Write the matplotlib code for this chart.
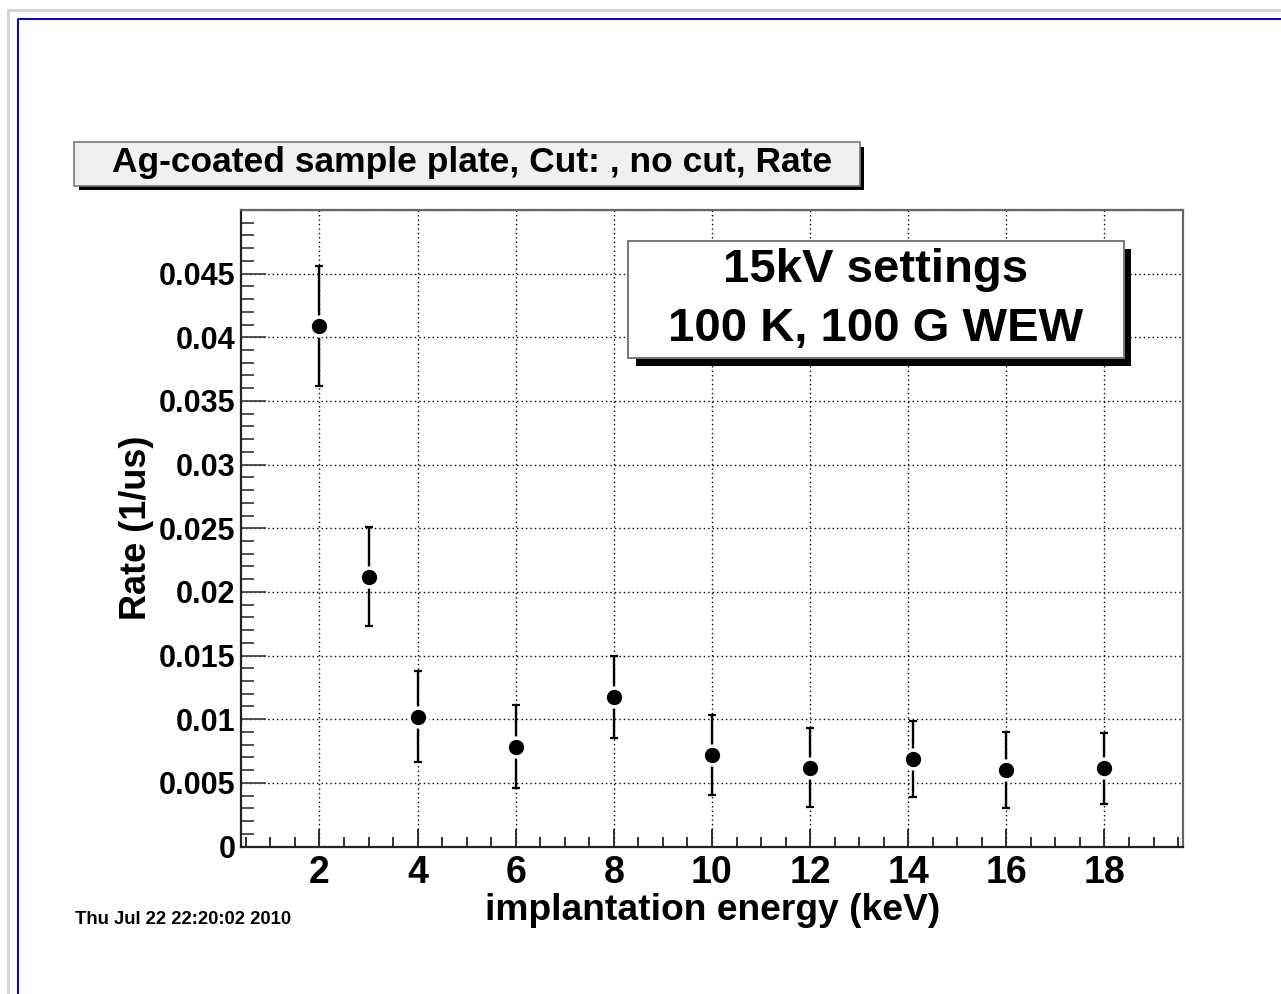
import matplotlib
matplotlib.use('Agg')
import matplotlib.pyplot as plt
from matplotlib.patches import Rectangle
from matplotlib.lines import Line2D
from matplotlib.ticker import MultipleLocator, FuncFormatter

plt.rcParams['font.family'] = ['Liberation Sans', 'DejaVu Sans']
plt.rcParams['font.weight'] = 'bold'

# rate vs implantation energy
energy = [2, 3, 4, 6, 8, 10, 12, 14.1, 16, 18]
rate = [0.0409, 0.0212, 0.0102, 0.00785, 0.01175, 0.0072, 0.00617, 0.00687, 0.00601, 0.00615]
rate_err = [0.0047, 0.0039, 0.0036, 0.00325, 0.0032, 0.00315, 0.0031, 0.0030, 0.0030, 0.0028]

title = 'Ag-coated sample plate, Cut: , no cut, Rate'
legend_lines = ['15kV settings', '100 K, 100 G WEW']
xlabel = 'implantation energy (keV)'
ylabel = 'Rate (1/us)'
stamp = 'Thu Jul 22 22:20:02 2010'

W, H = 1281, 994
fig = plt.figure(figsize=(W / 100, H / 100), dpi=100)
fig.patch.set_facecolor('white')


def fx(x):
    return x / W


def fy(y):
    return 1 - y / H


def box(x0, y0, x1, y1, **kw):
    r = Rectangle((fx(x0), fy(y1)), (x1 - x0) / W, (y1 - y0) / H,
                  transform=fig.transFigure, **kw)
    fig.patches.append(r)
    return r


# canvas frame
fig.add_artist(Line2D([fx(8), fx(8), fx(W)], [0, fy(9.5), fy(9.5)],
                      color='#d4d4d4', lw=2.2, transform=fig.transFigure))
fig.add_artist(Line2D([fx(18), fx(18), fx(W)], [0, fy(18.5), fy(18.5)],
                      color='#0000dd', lw=1.4, transform=fig.transFigure))

ax = fig.add_axes([fx(241), fy(846.5), (1183 - 241) / W, (846.5 - 210) / H])
ax.set_xlim(0.4, 19.6)
ax.set_ylim(0, 0.05)

ax.errorbar(energy, rate, yerr=rate_err, fmt='none', ecolor='black',
            elinewidth=1.7, capsize=2.6, capthick=1.6, zorder=3)
ax.plot(energy, rate, 'o', color='white', ms=15, zorder=4)
ax.plot(energy, rate, 'o', color='black', ms=10, zorder=5)

ax.xaxis.set_major_locator(MultipleLocator(2))
ax.xaxis.set_minor_locator(MultipleLocator(0.5))
ax.yaxis.set_major_locator(MultipleLocator(0.005))
ax.yaxis.set_minor_locator(MultipleLocator(0.001))
ax.yaxis.set_major_formatter(FuncFormatter(
    lambda v, p: '' if v > 0.0475 else ('0' if abs(v) < 1e-9 else ('%.3f' % v).rstrip('0'))))

ax.grid(True, which='major', color='black', lw=1.0, ls=(0, (1, 2.2)), zorder=1)
ax.set_axisbelow(True)

ax.tick_params(axis='x', which='major', direction='in', length=13, width=1.3,
               color='#222222', labelsize=27, pad=6, top=False)
ax.tick_params(axis='x', which='minor', direction='in', length=7, width=1.3,
               color='#222222', top=False)
ax.tick_params(axis='y', which='major', direction='in', length=18, width=1.3,
               color='#444444', labelsize=22, pad=4, right=False)
ax.tick_params(axis='y', which='minor', direction='in', length=9, width=1.3,
               color='#444444', right=False)
for lab in ax.get_xticklabels() + ax.get_yticklabels():
    lab.set_fontweight('bold')

for side in ['left', 'bottom']:
    ax.spines[side].set_linewidth(1.6)
    ax.spines[side].set_color('#222222')
for side in ['top', 'right']:
    ax.spines[side].set_linewidth(1.6)
    ax.spines[side].set_color('#666666')

fig.text(fx(713), fy(911), xlabel, fontsize=26.8, fontweight='bold',
         ha='center', va='center')
fig.text(fx(136), fy(528), ylabel, fontsize=26, fontweight='bold',
         ha='center', va='center', rotation=90)

# title box
box(79, 147, 864, 190, facecolor='black', edgecolor='none', zorder=5)
box(74, 142, 860, 186, facecolor='#f0f0f0', edgecolor='#777777', lw=1.2, zorder=6)
fig.text(fx(472), fy(162), title, fontsize=25.5, fontweight='bold',
         ha='center', va='center', zorder=7)

# legend box
box(636, 249, 1131, 366, facecolor='black', edgecolor='none', zorder=5)
box(628, 241, 1124, 358, facecolor='white', edgecolor='#777777', lw=1.4, zorder=6)
fig.text(fx(876), fy(270), legend_lines[0], fontsize=34, fontweight='bold',
         ha='center', va='center', zorder=7)
fig.text(fx(876), fy(329), legend_lines[1], fontsize=34, fontweight='bold',
         ha='center', va='center', zorder=7)

fig.text(fx(75), fy(920), stamp, fontsize=13.3, fontweight='bold',
         ha='left', va='center')

fig.savefig('out.png', dpi=100)
